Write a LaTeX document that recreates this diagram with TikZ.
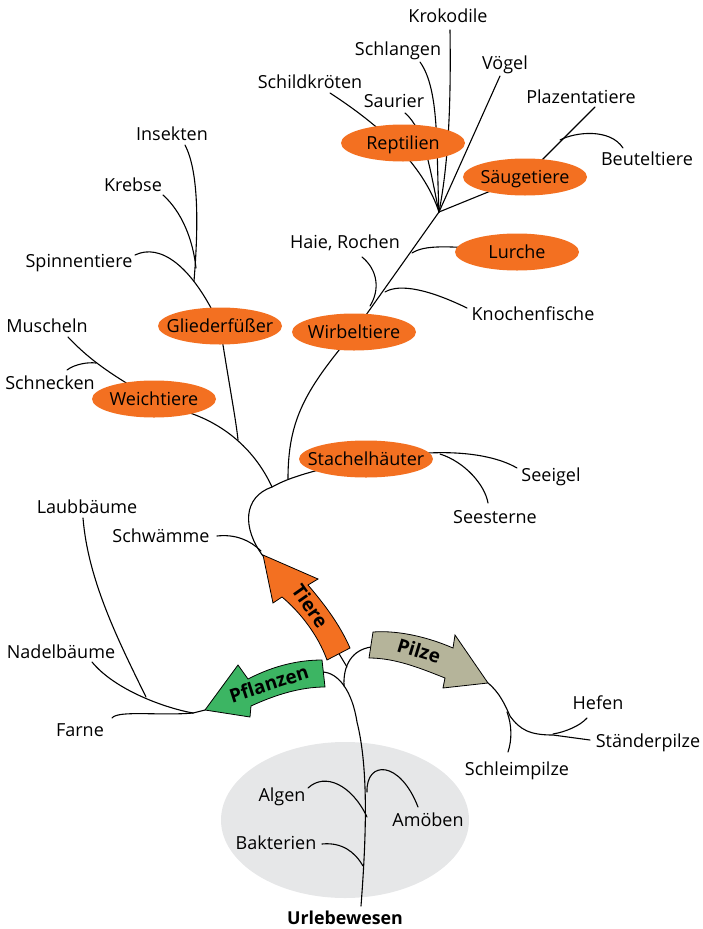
\documentclass[tikz,border=0pt]{standalone}
\usepackage{fontspec}
\setmainfont{Open Sans}
\usetikzlibrary{shapes.geometric}
\definecolor{ora}{RGB}{243,112,33}
\definecolor{grn}{RGB}{60,181,99}
\definecolor{pilzc}{RGB}{181,180,154}
\definecolor{greyell}{RGB}{230,231,232}
\pgfdeclarelayer{bg}
\pgfdeclarelayer{lines}
\pgfsetlayers{bg,lines,main}
\begin{document}
\begin{tikzpicture}[x=1pt,y=-1pt,
  lbl/.style={font=\fontsize{18}{20}\selectfont, inner sep=0pt, anchor=base},
  br/.style={line width=1.1pt, line cap=round},
  grp/.style={shape=ellipse, fill=ora, minimum width=124pt, minimum height=37pt,
    inner sep=0pt, font=\fontsize{18}{20}\selectfont, text height=13pt, text depth=0pt},
  arr/.style={draw=black, line width=0.8pt, line join=miter},
  atext/.style={font=\bfseries\fontsize{19}{21}\selectfont, inner sep=0pt, text height=13.5pt, text depth=0pt}
]
\useasboundingbox (0,0) rectangle (702,929);

% grey ellipse
\begin{pgfonlayer}{bg}
\fill[greyell] (345,820) ellipse [x radius=124, y radius=78];
\end{pgfonlayer}

% group ellipses
\node[grp] (rept) at (403,143) {\makebox[0pt]{Reptilien}};
\node[grp] (saeu) at (525,177) {\makebox[0pt]{Säugetiere}};
\node[grp] (lurch) at (517,252) {\makebox[0pt]{Lurche}};
\node[grp] (wirb) at (354,332) {\makebox[0pt]{Wirbeltiere}};
\node[grp] (glied) at (220,326) {\makebox[0pt]{Gliederfüßer}};
\node[grp] (weich) at (154,399) {\makebox[0pt]{Weichtiere}};
\node[grp, minimum width=134pt] (stach) at (366,459) {\makebox[0pt]{Stachelhäuter}};

% labels
\node[lbl] (krok) at (448,22.5) {Krokodile};
\node[lbl] (schl) at (398,55.5) {Schlangen};
\node[lbl] (schild) at (310,88.5) {Schildkröten};
\node[lbl] (saur) at (394,107.5) {Saurier};
\node[lbl] (voeg) at (505,69.5) {Vögel};
\node[lbl] (plaz) at (581,103.5) {Plazentatiere};
\node[lbl] (beut) at (647,165.5) {Beuteltiere};
\node[lbl] (ins) at (172,140) {Insekten};
\node[lbl] (kreb) at (133,191.5) {Krebse};
\node[lbl] (spin) at (79,267.5) {Spinnentiere};
\node[lbl] (musch) at (47,332.5) {Muscheln};
\node[lbl] (schn) at (50,389.5) {Schnecken};
\node[lbl] (haie) at (345,248.5) {Haie, Rochen};
\node[lbl] (knoch) at (533,320.5) {Knochenfische};
\node[lbl] (seei) at (551,481.5) {Seeigel};
\node[lbl] (sees) at (495,523.5) {Seesterne};
\node[lbl] (laub) at (87,513.5) {Laubbäume};
\node[lbl] (schw) at (161,542.5) {Schwämme};
\node[lbl] (nadel) at (61,658.5) {Nadelbäume};
\node[lbl] (farn) at (80,736) {Farne};
\node[lbl] (hefe) at (598,709.5) {Hefen};
\node[lbl] (staend) at (648,747.5) {Ständerpilze};
\node[lbl] (schleim) at (517,775.5) {Schleimpilze};
\node[lbl] (alg) at (282,801.5) {Algen};
\node[lbl] (amoe) at (428,826.5) {Amöben};
\node[lbl] (bakt) at (276,849.5) {Bakterien};
\node[lbl, font=\bfseries\fontsize{17.8}{20}\selectfont] (urle) at (345,924) {Urlebewesen};

% junctions
\coordinate (jtop) at (439,212);
\coordinate (jwirb) at (366,315);
\coordinate (jtier) at (272,487);
\coordinate (jroot) at (344,686);
\coordinate (jpfl) at (193,713);

\begin{pgfonlayer}{lines}
% trunk
\draw[br] (361,906) .. controls (366,840) and (369,770) .. (357,722)
  .. controls (352,690) and (338,673) .. (323,672);
\draw[br] (jroot) .. controls (343,665) and (352,650) .. (371,647);
\draw[br] (338,652) -- (347,667);
% Urlebewesen branches
\draw[br] (367,792) .. controls (366,760) and (400,760) .. (418,807);
\draw[br] (367,817) .. controls (352,785) and (325,772) .. (308,788);
\draw[br] (363,866) .. controls (355,852) and (342,842) .. (322,844);
% Pflanzen
\draw[br] (205,710) -- (jpfl);
\draw[br] (jpfl) .. controls (165,708) and (115,690) .. (92,662);
\draw[br] (146,697) .. controls (118,640) and (88,580) .. (83,518);
\draw[br] (jpfl) .. controls (160,716) and (118,710) .. (112,718);
% Pilze
\draw[br] (488,683) .. controls (500,693) and (505,705) .. (510,716)
  .. controls (520,730) and (530,735) .. (553,735) -- (590,740);
\draw[br] (507,712) .. controls (512,725) and (512,740) .. (508,752);
\draw[br] (553,734) .. controls (565,732) and (580,726) .. (587,718);
% Tiere
\draw[br] (263,556) .. controls (242,528) and (243,497) .. (jtier);
\draw[br] (217,536) .. controls (235,534) and (250,540) .. (261,551);
\draw[br] (jtier) .. controls (285,480) and (300,473) .. (stach.center);
\draw[br] (428,453) .. controls (470,451) and (500,458) .. (517,468);
\draw[br] (440,454) .. controls (465,462) and (485,485) .. (488,503);
\draw[br] (288,479) .. controls (288,420) and (305,390) .. (wirb.center);
\draw[br] (190,413) .. controls (225,425) and (255,450) .. (jtier);
\draw[br] (glied.center) .. controls (230,390) and (236,420) .. (238,440);
\draw[br] (135,255) .. controls (160,243) and (192,265) .. (glied.center);
\draw[br] (185,145) .. controls (198,170) and (199,220) .. (194,281);
\draw[br] (163,195) .. controls (182,212) and (193,240) .. (196,268);
\draw[br] (68,337) .. controls (85,355) and (105,372) .. (weich.center);
\draw[br] (67,370) .. controls (75,364) and (88,362) .. (96,363);
% Wirbeltiere
\draw[br] (wirb.center) -- (jwirb) -- (jtop);
\draw[br] (370,306) .. controls (380,290) and (378,270) .. (362,257);
\draw[br] (385,292) .. controls (400,283) and (430,290) .. (467,308);
\draw[br] (412,253) .. controls (425,245) and (445,245) .. (lurch.center);
% top
\draw[br] (jtop) -- (saeu.center);
\draw[br] (jtop) -- (500,76);
\draw[br] (jtop) .. controls (449,160) and (451,100) .. (450,30);
\draw[br] (jtop) .. controls (436,150) and (440,90) .. (420,62);
\draw[br] (jtop) .. controls (430,170) and (425,130) .. (405,113);
\draw[br] (jtop) .. controls (425,170) and (390,132) .. (330,93);
\draw[br] (saeu.center) -- (595,107);
\draw[br] (560,140) .. controls (575,132) and (610,128) .. (623,148);
\end{pgfonlayer}

% arrows
\draw[arr, fill=ora] (263,555) -- (318,579) -- (308,585)
  .. controls (325,605) and (340,625) .. (350,648) -- (327,660)
  .. controls (318,635) and (300,612) .. (282,597) -- (273,603) -- cycle;
\draw[arr, fill=grn] (205,710) -- (238,665) -- (248,679)
  .. controls (275,665) and (300,660) .. (322,660) -- (325,687)
  .. controls (300,687) and (275,695) .. (251,706) -- (250,717) -- cycle;
\draw[arr, fill=pilzc] (373,632) .. controls (400,630) and (430,638) .. (453,648)
  -- (455,635) -- (488,683) -- (443,688) -- (445,678)
  .. controls (420,668) and (395,658) .. (369,658) -- cycle;
\node[atext, rotate=-55] (tiere) at (310,606) {Tiere};
\node[atext, rotate=18] (pflanzen) at (269,684) {Pflanzen};
\node[atext, rotate=-17] (pilze) at (419,651) {Pilze};
\end{tikzpicture}
\end{document}
